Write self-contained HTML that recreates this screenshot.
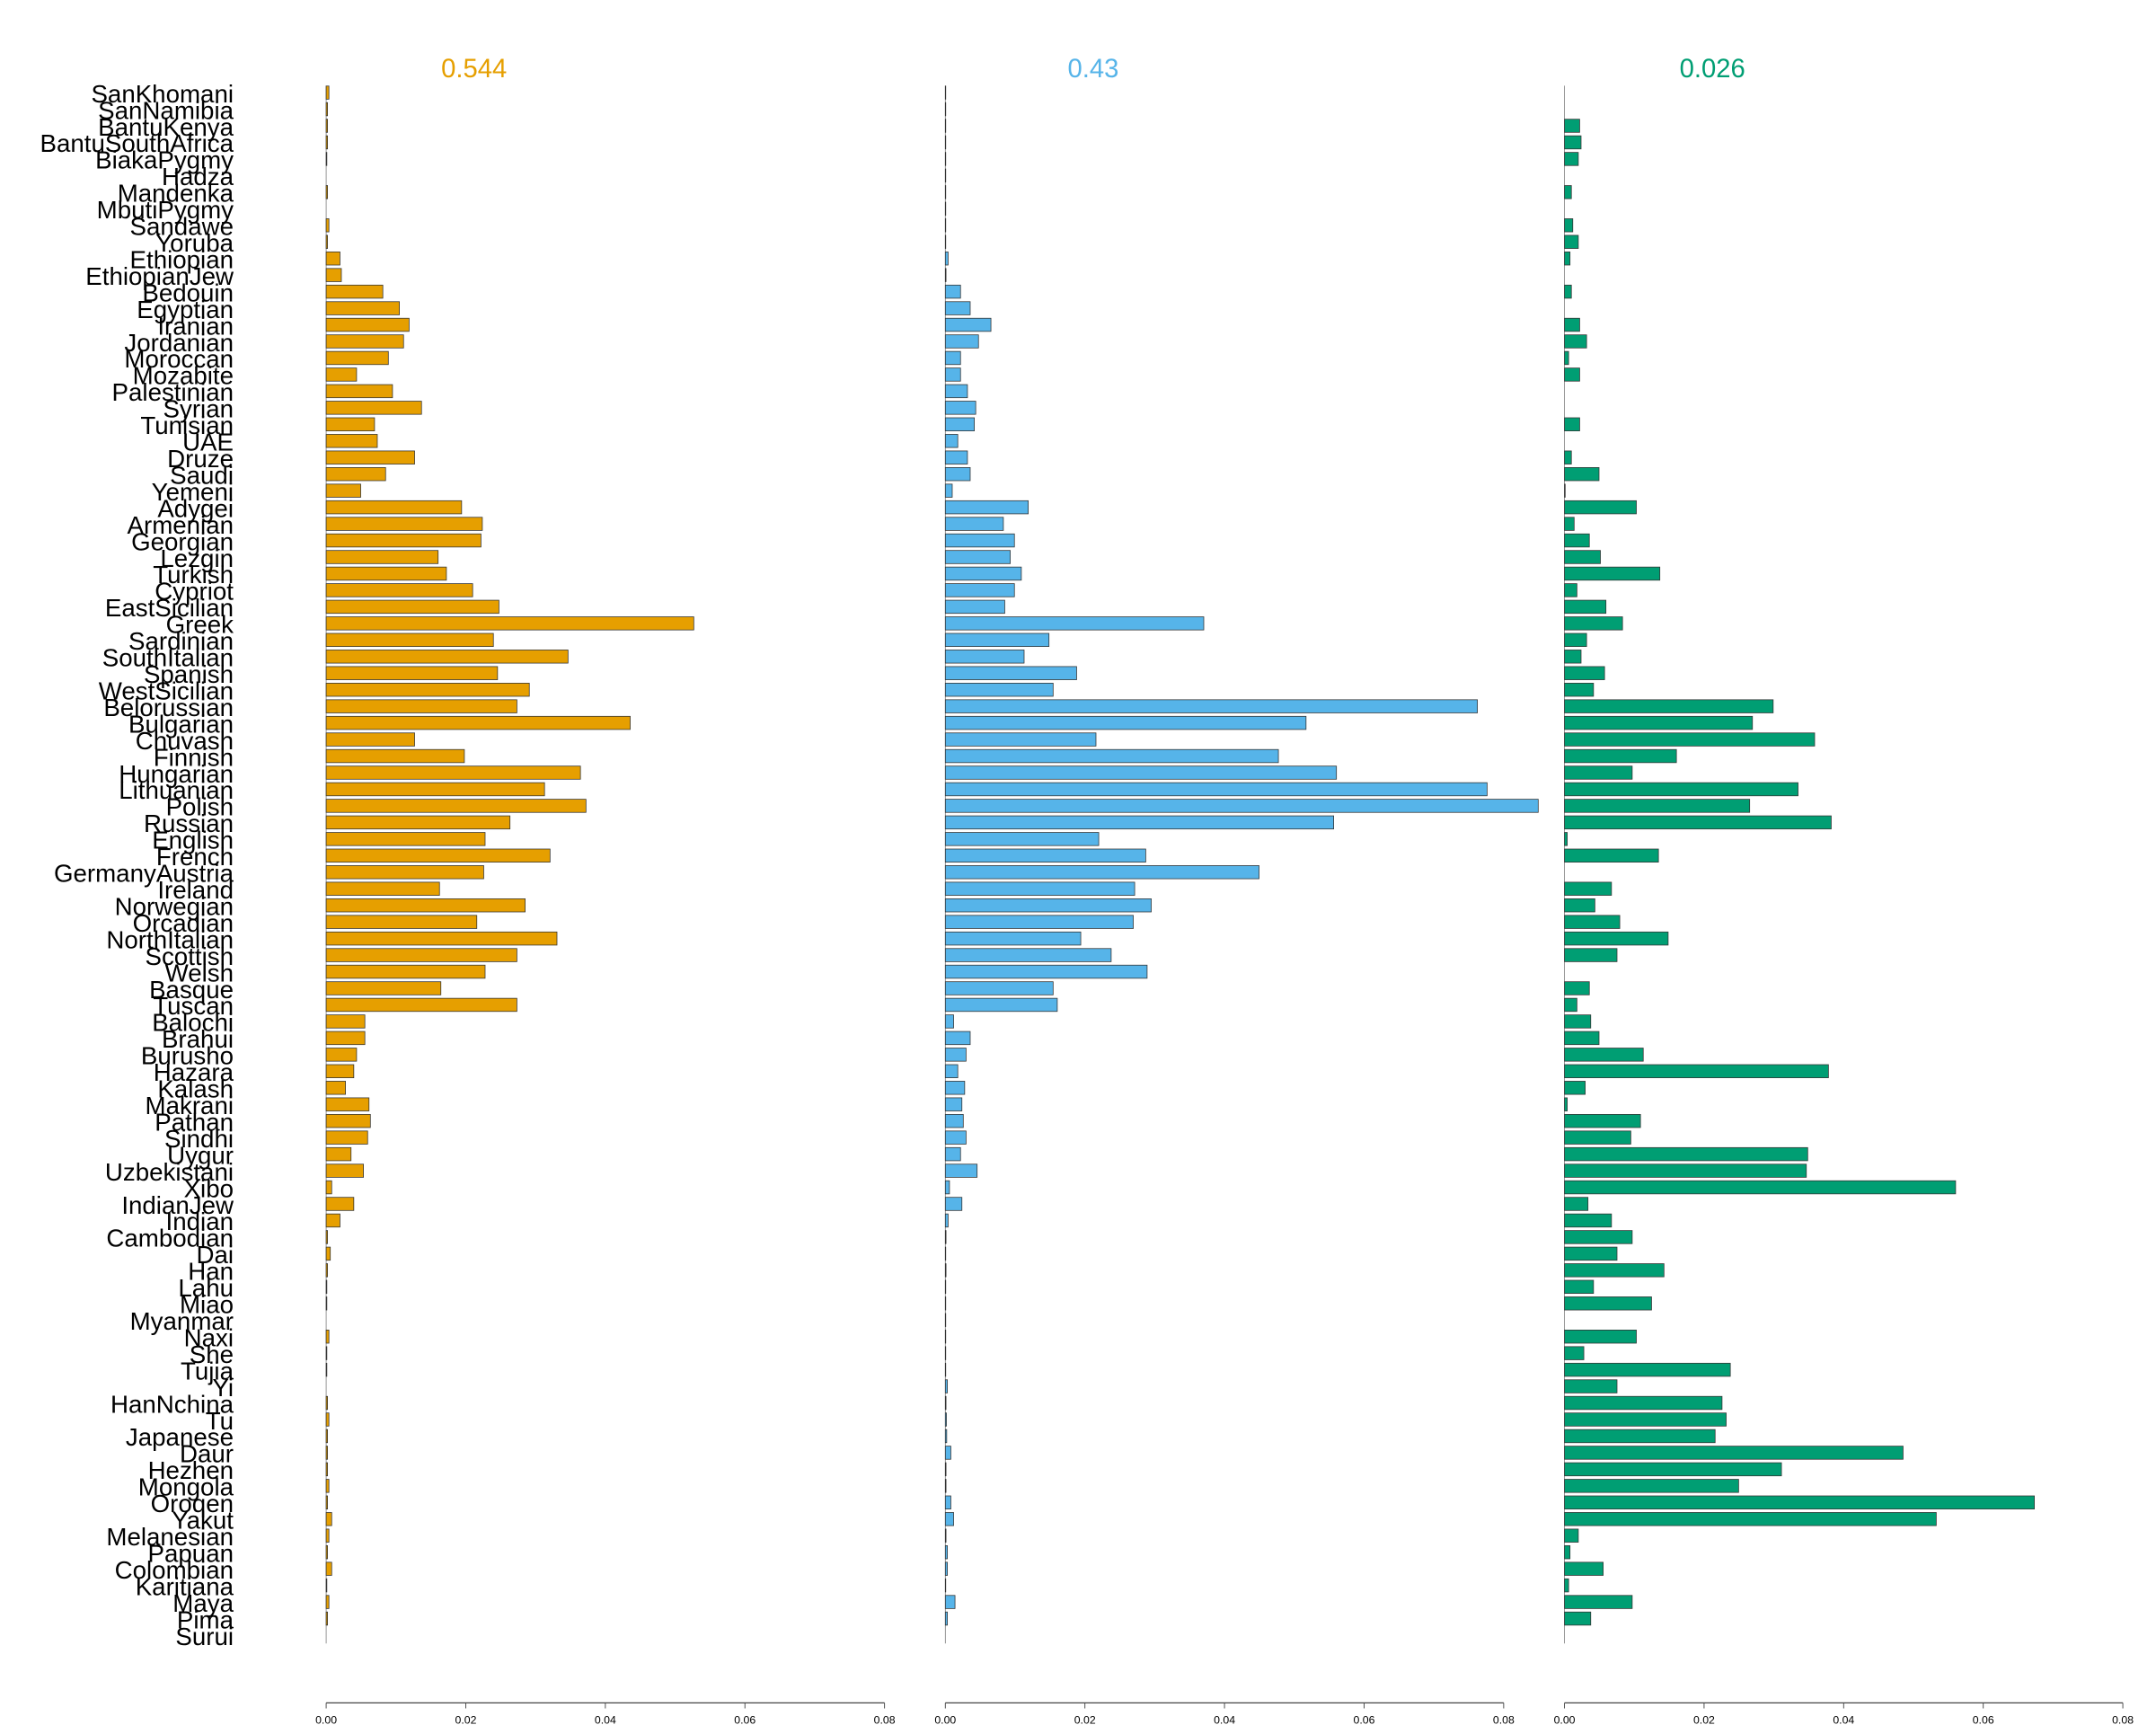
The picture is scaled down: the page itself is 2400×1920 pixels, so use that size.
<!DOCTYPE html>
<html><head><meta charset="utf-8"><style>
html,body{margin:0;padding:0;background:#fff;}
svg{display:block;}
.lab{font-family:"Liberation Sans",sans-serif;font-size:18px;fill:#000;text-anchor:end;}
.tt{font-family:"Liberation Sans",sans-serif;font-size:19px;text-anchor:middle;}
.tk{font-family:"Liberation Sans",sans-serif;font-size:8px;fill:#000;text-anchor:middle;}
</style></head><body>
<svg id="s" width="2400" height="1920" viewBox="0 0 1560 1248" xmlns="http://www.w3.org/2000/svg">
<rect width="1560" height="1248" fill="#fff"/>
<text class="tt" x="343" y="56" fill="#E69F00">0.544</text>
<text class="tt" x="791" y="56" fill="#56B4E9">0.43</text>
<text class="tt" x="1239" y="56" fill="#009E73">0.026</text>
<g id="labs" transform="translate(0,1)">
<text class="lab" x="169" y="73">SanKhomani</text>
<text class="lab" x="169" y="85">SanNamibia</text>
<text class="lab" x="169" y="97">BantuKenya</text>
<text class="lab" x="169" y="109">BantuSouthAfrica</text>
<text class="lab" x="169" y="121">BiakaPygmy</text>
<text class="lab" x="169" y="133">Hadza</text>
<text class="lab" x="169" y="145">Mandenka</text>
<text class="lab" x="169" y="157">MbutiPygmy</text>
<text class="lab" x="169" y="169">Sandawe</text>
<text class="lab" x="169" y="181">Yoruba</text>
<text class="lab" x="169" y="193">Ethiopian</text>
<text class="lab" x="169" y="205">EthiopianJew</text>
<text class="lab" x="169" y="217">Bedouin</text>
<text class="lab" x="169" y="229">Egyptian</text>
<text class="lab" x="169" y="241">Iranian</text>
<text class="lab" x="169" y="253">Jordanian</text>
<text class="lab" x="169" y="265">Moroccan</text>
<text class="lab" x="169" y="277">Mozabite</text>
<text class="lab" x="169" y="289">Palestinian</text>
<text class="lab" x="169" y="301">Syrian</text>
<text class="lab" x="169" y="313">Tunisian</text>
<text class="lab" x="169" y="325">UAE</text>
<text class="lab" x="169" y="337">Druze</text>
<text class="lab" x="169" y="349">Saudi</text>
<text class="lab" x="169" y="361">Yemeni</text>
<text class="lab" x="169" y="373">Adygei</text>
<text class="lab" x="169" y="385">Armenian</text>
<text class="lab" x="169" y="397">Georgian</text>
<text class="lab" x="169" y="409">Lezgin</text>
<text class="lab" x="169" y="421">Turkish</text>
<text class="lab" x="169" y="433">Cypriot</text>
<text class="lab" x="169" y="445">EastSicilian</text>
<text class="lab" x="169" y="457">Greek</text>
<text class="lab" x="169" y="469">Sardinian</text>
<text class="lab" x="169" y="481">SouthItalian</text>
<text class="lab" x="169" y="493">Spanish</text>
<text class="lab" x="169" y="505">WestSicilian</text>
<text class="lab" x="169" y="517">Belorussian</text>
<text class="lab" x="169" y="529">Bulgarian</text>
<text class="lab" x="169" y="541">Chuvash</text>
<text class="lab" x="169" y="553">Finnish</text>
<text class="lab" x="169" y="565">Hungarian</text>
<text class="lab" x="169" y="577">Lithuanian</text>
<text class="lab" x="169" y="589">Polish</text>
<text class="lab" x="169" y="601">Russian</text>
<text class="lab" x="169" y="613">English</text>
<text class="lab" x="169" y="625">French</text>
<text class="lab" x="169" y="637">GermanyAustria</text>
<text class="lab" x="169" y="649">Ireland</text>
<text class="lab" x="169" y="661">Norwegian</text>
<text class="lab" x="169" y="673">Orcadian</text>
<text class="lab" x="169" y="685">NorthItalian</text>
<text class="lab" x="169" y="697">Scottish</text>
<text class="lab" x="169" y="709">Welsh</text>
<text class="lab" x="169" y="721">Basque</text>
<text class="lab" x="169" y="733">Tuscan</text>
<text class="lab" x="169" y="745">Balochi</text>
<text class="lab" x="169" y="757">Brahui</text>
<text class="lab" x="169" y="769">Burusho</text>
<text class="lab" x="169" y="781">Hazara</text>
<text class="lab" x="169" y="793">Kalash</text>
<text class="lab" x="169" y="805">Makrani</text>
<text class="lab" x="169" y="817">Pathan</text>
<text class="lab" x="169" y="829">Sindhi</text>
<text class="lab" x="169" y="841">Uygur</text>
<text class="lab" x="169" y="853">Uzbekistani</text>
<text class="lab" x="169" y="865">Xibo</text>
<text class="lab" x="169" y="877">IndianJew</text>
<text class="lab" x="169" y="889">Indian</text>
<text class="lab" x="169" y="901">Cambodian</text>
<text class="lab" x="169" y="913">Dai</text>
<text class="lab" x="169" y="925">Han</text>
<text class="lab" x="169" y="937">Lahu</text>
<text class="lab" x="169" y="949">Miao</text>
<text class="lab" x="169" y="961">Myanmar</text>
<text class="lab" x="169" y="973">Naxi</text>
<text class="lab" x="169" y="985">She</text>
<text class="lab" x="169" y="997">Tujia</text>
<text class="lab" x="169" y="1009">Yi</text>
<text class="lab" x="169" y="1021">HanNchina</text>
<text class="lab" x="169" y="1033">Tu</text>
<text class="lab" x="169" y="1045">Japanese</text>
<text class="lab" x="169" y="1057">Daur</text>
<text class="lab" x="169" y="1069">Hezhen</text>
<text class="lab" x="169" y="1081">Mongola</text>
<text class="lab" x="169" y="1093">Oroqen</text>
<text class="lab" x="169" y="1105">Yakut</text>
<text class="lab" x="169" y="1117">Melanesian</text>
<text class="lab" x="169" y="1129">Papuan</text>
<text class="lab" x="169" y="1141">Colombian</text>
<text class="lab" x="169" y="1153">Karitiana</text>
<text class="lab" x="169" y="1165">Maya</text>
<text class="lab" x="169" y="1177">Pima</text>
<text class="lab" x="169" y="1189">Surui</text>
</g>
<g id="p1"><text class="tk" x="236" y="1247">0.00</text><text class="tk" x="337" y="1247">0.02</text><text class="tk" x="438" y="1247">0.04</text><text class="tk" x="539" y="1247">0.06</text><text class="tk" x="640" y="1247">0.08</text></g>
<g id="p2"><text class="tk" x="684" y="1247">0.00</text><text class="tk" x="785" y="1247">0.02</text><text class="tk" x="886" y="1247">0.04</text><text class="tk" x="987" y="1247">0.06</text><text class="tk" x="1088" y="1247">0.08</text></g>
<g id="p3"><text class="tk" x="1132" y="1247">0.00</text><text class="tk" x="1233" y="1247">0.02</text><text class="tk" x="1334" y="1247">0.04</text><text class="tk" x="1435" y="1247">0.06</text><text class="tk" x="1536" y="1247">0.08</text></g>
</svg>
<script>
(function(){
var NS="http://www.w3.org/2000/svg",s=document.getElementById("s");
var P=[
{x:236,c:"#E69F00",d:[2,1,1,1,0.5,0,1,0,2,1,10,11,41,53,60,56,45,22,48,69,35,37,64,43,25,98,113,112,81,87,106,125,266,121,175,124,147,138,220,64,100,184,158,188,133,115,162,114,82,144,109,167,138,115,83,138,28,28,22,20,14,31,32,30,18,27,4,20,10,1,3,1,0.5,0.5,0,2,0.5,0.5,0,1,2,1,1,1,2,1,4,2,1,4,0.5,2,1,0]},
{x:684,c:"#56B4E9",d:[0.3,0.3,0.3,0.3,0.3,0.3,0.3,0.3,0.3,0.3,2,0.5,11,18,33,24,11,11,16,22,21,9,16,18,5,60,42,50,47,55,50,43,187,75,57,95,78,385,261,109,241,283,392,429,281,111,145,227,137,149,136,98,120,146,78,81,6,18,15,9,14,12,13,15,11,23,3,12,2,0.5,0.3,0.5,0.3,0.3,0.3,0.3,0.3,0.3,1.5,0.5,0.8,1,4,0.5,0.5,4,6,0.5,1.5,1.5,0.3,7,1.5,0]},
{x:1132,c:"#009E73",d:[0,0,11,12,10,0,5,0,6,10,4,0,5,0,11,16,3,11,0,0,11,0,5,25,0.5,52,7,18,26,69,9,30,42,16,12,29,21,151,136,181,81,49,169,134,193,2,68,0,34,22,40,75,38,0,18,9,19,25,57,191,15,2,55,48,176,175,283,17,34,49,38,72,21,63,0,52,14,120,38,114,117,109,245,157,126,340,269,10,4,28,3,49,19,0]}];
function el(n,a){var e=document.createElementNS(NS,n);for(var k in a)e.setAttribute(k,a[k]);s.appendChild(e);return e;}
P.forEach(function(p){
 el("line",{x1:p.x,x2:p.x,y1:62,y2:1189,stroke:"#777","stroke-width":0.5});
 p.d.forEach(function(w,i){ if(w>0) el("rect",{x:p.x,y:62.25+12*i,width:w,height:9.5,fill:p.c,stroke:"#333","stroke-width":0.5});});
 el("line",{x1:p.x,x2:p.x+404,y1:1232,y2:1232,stroke:"#444","stroke-width":0.8});
 for(var t=0;t<5;t++){var x=p.x+101*t;el("line",{x1:x,x2:x,y1:1232,y2:1236,stroke:"#444","stroke-width":0.6});}
});
})();
</script>
</body></html>
